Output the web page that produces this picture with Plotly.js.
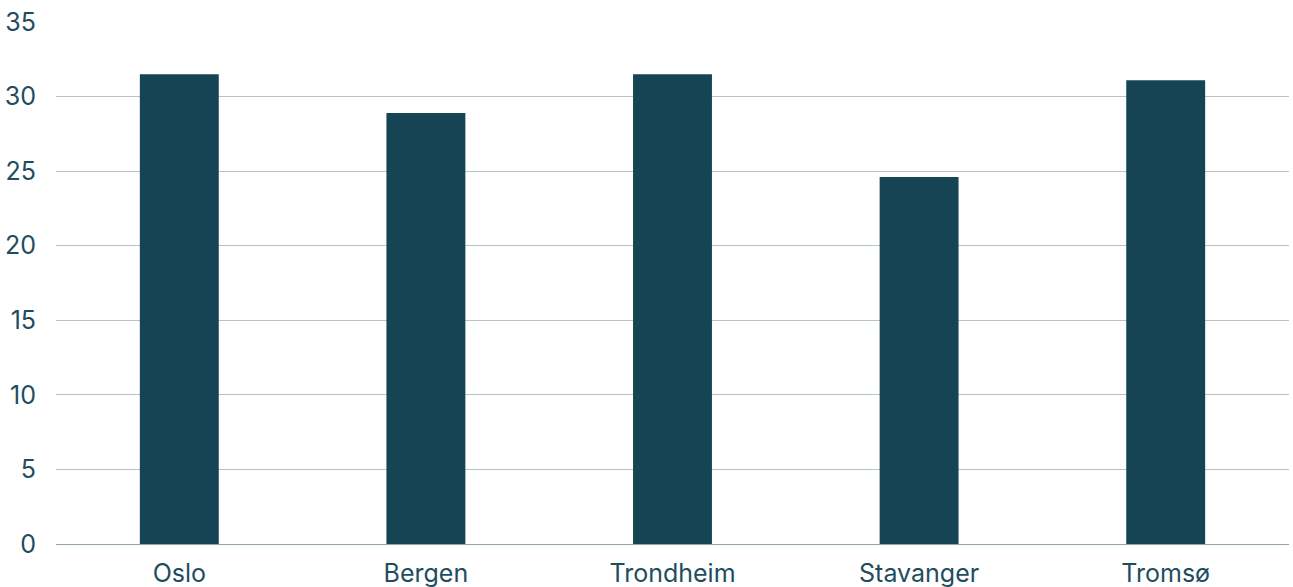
<!DOCTYPE html>
<html>
<head>
<meta charset="utf-8">
<script src="https://cdn.plot.ly/plotly-3.0.1.min.js"></script>
<style>
  html, body { margin: 0; padding: 0; background: #ffffff; }
  #chart { width: 1293px; height: 587px; }
</style>
</head>
<body>
<div id="chart"></div>
<script>
// Cities and their values
const cities = ["Oslo", "Bergen", "Trondheim", "Stavanger", "Tromsø"];
const values = [31.5, 28.9, 31.5, 24.6, 31.1];
const yTicks = [0, 5, 10, 15, 20, 25, 30, 35];

const textColor = "#1f4d60";
const barColor = "#154555";

const trace = {
  type: "bar",
  x: cities,
  y: values,
  marker: { color: barColor, line: { width: 0 } },
  hoverinfo: "x+y"
};

const layout = {
  width: 1293,
  height: 587,
  margin: { l: 56, r: 4, t: 22, b: 43, pad: 0 },
  paper_bgcolor: "#ffffff",
  plot_bgcolor: "#ffffff",
  bargap: 0.68,
  showlegend: false,
  font: { family: "Inter, 'Noto Sans', sans-serif", size: 25, color: textColor },
  xaxis: {
    type: "category",
    showgrid: false,
    showline: false,
    zeroline: false,
    ticks: "outside",
    ticklen: 7,
    tickcolor: "rgba(0,0,0,0)",
    tickfont: { size: 25, color: textColor }
  },
  yaxis: {
    range: [0, 35],
    tickvals: yTicks,
    ticktext: yTicks.map(String),
    showgrid: true,
    gridcolor: "#b7c2c9",
    gridwidth: 1,
    zeroline: true,
    zerolinecolor: "#90a4b0",
    zerolinewidth: 1,
    showline: false,
    ticks: "outside",
    ticklen: 14,
    tickcolor: "rgba(0,0,0,0)",
    tickfont: { size: 25, color: textColor }
  }
};

Plotly.newPlot("chart", [trace], layout, { displayModeBar: false, staticPlot: true });
</script>
</body>
</html>
